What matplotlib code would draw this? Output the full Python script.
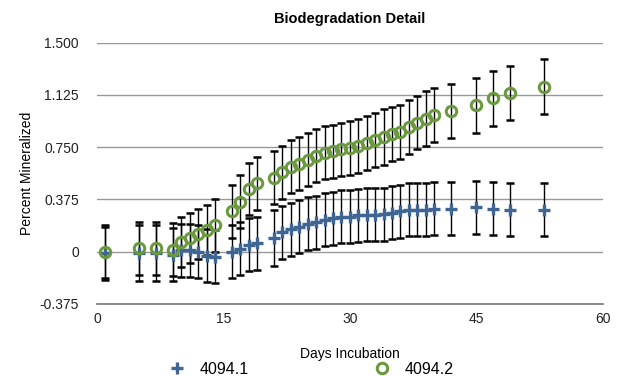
import matplotlib.pyplot as plt

plt.rcParams["font.family"] = ["Liberation Sans", "DejaVu Sans"]

# days of incubation (same sampling for both replicates)
days = [1, 5, 7, 9, 10, 11, 12, 13, 14, 16, 17, 18, 19,
        21, 22, 23, 24, 25, 26, 27, 28, 29, 30, 31, 32, 33, 34, 35,
        36, 37, 38, 39, 40, 42, 45, 47, 49, 53]

# sample 4094.1 (blue crosses)
mineral_1 = [-0.01, -0.01, -0.01, -0.02, 0.01, 0.01, 0.0, -0.03, -0.035,
             0.0, 0.02, 0.05, 0.06,
             0.10, 0.14, 0.16, 0.18, 0.20, 0.21, 0.23, 0.24, 0.25, 0.25, 0.26,
             0.265, 0.265, 0.27, 0.28, 0.29, 0.30, 0.30, 0.30, 0.31,
             0.31, 0.32, 0.31, 0.30, 0.30]
err_1 = [0.19, 0.20, 0.20, 0.19, 0.19, 0.19, 0.19, 0.19, 0.19,
         0.19, 0.19, 0.19, 0.19,
         0.20, 0.19, 0.19, 0.19, 0.19, 0.19, 0.19, 0.19, 0.19, 0.19, 0.19,
         0.19, 0.19, 0.19, 0.19, 0.19, 0.19, 0.19, 0.19, 0.19,
         0.19, 0.19, 0.19, 0.19, 0.19]

# sample 4094.2 (green circles)
mineral_2 = [0.0, 0.024, 0.024, 0.015, 0.07, 0.10, 0.127, 0.156, 0.19,
             0.29, 0.36, 0.45, 0.49,
             0.53, 0.57, 0.61, 0.63, 0.66, 0.69, 0.71, 0.72, 0.735, 0.745, 0.76,
             0.78, 0.80, 0.825, 0.845, 0.86, 0.895, 0.925, 0.955, 0.98,
             1.01, 1.05, 1.10, 1.14, 1.185]
err_2 = [0.19, 0.19, 0.19, 0.19, 0.18, 0.18, 0.18, 0.18, 0.19,
         0.19, 0.19, 0.19, 0.19,
         0.19, 0.19, 0.19, 0.19, 0.19, 0.19, 0.19, 0.19, 0.19, 0.195, 0.195,
         0.195, 0.195, 0.2, 0.195, 0.195, 0.195, 0.19, 0.195, 0.195,
         0.195, 0.195, 0.195, 0.195, 0.195]

y_ticks = [-0.375, 0, 0.375, 0.75, 1.125, 1.5]
y_labels = ["-0.375", "0", "0.375", "0.750", "1.125", "1.500"]
x_ticks = [0, 15, 30, 45, 60]

fig = plt.figure(figsize=(6.22, 3.76), dpi=100)
ax = fig.add_axes([0.156, 0.1915, 0.813, 0.695])

ax.errorbar(days, mineral_1, yerr=err_1, fmt="none", ecolor="black",
            elinewidth=1.0, capsize=3.0, capthick=1.8, zorder=2)
ax.errorbar(days, mineral_2, yerr=err_2, fmt="none", ecolor="black",
            elinewidth=1.0, capsize=3.0, capthick=1.8, zorder=2)
ax.plot(days, mineral_1, linestyle="none", marker="+", markersize=8.5,
        markeredgewidth=2.4, color="#3e6594", label="4094.1", zorder=3)
ax.plot(days, mineral_2, linestyle="none", marker="o", markersize=7.5,
        markerfacecolor="none", markeredgewidth=2.2, markeredgecolor="#6b9a3e",
        label="4094.2", zorder=3)

ax.set_xlim(0, 60)
ax.set_ylim(-0.375, 1.5)
ax.set_xticks(x_ticks)
ax.set_yticks(y_ticks)
ax.set_yticklabels(y_labels)
ax.tick_params(length=0, labelsize=10, colors="#222222")
ax.tick_params(axis="y", pad=13)
ax.tick_params(axis="x", pad=6)
ax.grid(axis="y", color="#999999", linewidth=1.0)
ax.set_axisbelow(True)
for side in ["top", "right", "left"]:
    ax.spines[side].set_visible(False)
ax.spines["bottom"].set_color("#777777")
ax.spines["bottom"].set_linewidth(1.2)

ax.set_xlabel("Days Incubation", fontsize=10, labelpad=15)
ax.set_ylabel("Percent Mineralized", fontsize=10, labelpad=4)
ax.set_title("Biodegradation Detail", fontsize=10.5, fontweight="bold", pad=14)

ax.legend(loc="center", bbox_to_anchor=(0.416, -0.25), ncol=2,
          frameon=False, fontsize=11.5, columnspacing=7.3, handletextpad=0.45)

fig.savefig("out.png", dpi=100)
